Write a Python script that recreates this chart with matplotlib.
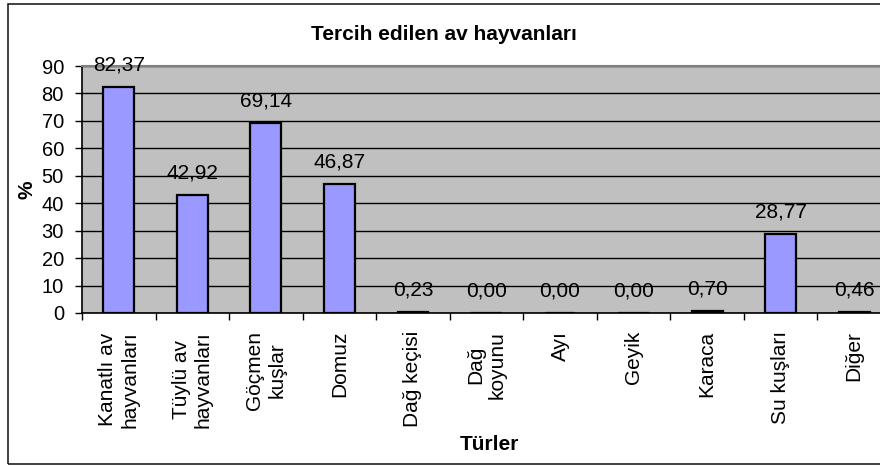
import matplotlib
import matplotlib.pyplot as plt
from matplotlib.patches import Rectangle
import numpy as np

matplotlib.use("Agg")
plt.rcParams["font.family"] = ["Liberation Sans", "DejaVu Sans"]

# Data
CATEGORIES = [
    "Kanatlı av\nhayvanları",
    "Tüylü av\nhayvanları",
    "Göçmen\nkuşlar",
    "Domuz",
    "Dağ keçisi",
    "Dağ\nkoyunu",
    "Ayı",
    "Geyik",
    "Karaca",
    "Su kuşları",
    "Diğer",
]
VALUES = [82.37, 42.92, 69.14, 46.87, 0.23, 0.00, 0.00, 0.00, 0.70, 28.77, 0.46]

TITLE = "Tercih edilen av hayvanları"
XLABEL = "Türler"
YLABEL = "%"

W, H = 880, 467
fig = plt.figure(figsize=(W / 100, H / 100), dpi=100)

# outer chart frame (right edge is cropped in the reference)
fig.patches.append(
    Rectangle((8 / W, 1 - 464 / H), 1.2, (464 - 4) / H, transform=fig.transFigure,
              fill=False, edgecolor="#202020", lw=1.2, clip_on=False)
)

ax = fig.add_axes([82 / W, 1 - 313 / H, (891 - 82) / W, (313 - 66) / H])
ax.set_facecolor("#C0C0C0")

x = np.arange(len(CATEGORIES))
ax.bar(x, VALUES, width=0.42, color="#9999FF", edgecolor="black", linewidth=1.6, zorder=3)

for xi, v in zip(x, VALUES):
    ax.annotate(f"{v:.2f}".replace(".", ","), (xi, v), xytext=(0, 9),
                textcoords="offset points", ha="center", va="bottom", fontsize=15, zorder=4)

ax.set_xlim(-0.5, len(CATEGORIES) - 0.5)
ax.set_ylim(0, 90)
ax.set_yticks(np.arange(0, 91, 10))
ax.yaxis.grid(True, color="black", lw=1.0, zorder=1)
ax.set_axisbelow(True)

ax.set_xticks(x)
ax.set_xticklabels(CATEGORIES, rotation=90, fontsize=15, va="top", ha="center",
                   multialignment="center")
ax.set_xticks(np.arange(-0.5, len(CATEGORIES)), minor=True)
ax.tick_params(axis="x", which="major", length=0, pad=13)
ax.tick_params(axis="x", which="minor", length=5, width=1, direction="out")
ax.tick_params(axis="y", length=5, width=1, direction="out", labelsize=14.5, pad=8)

for side in ("left", "bottom"):
    ax.spines[side].set_color("black")
    ax.spines[side].set_linewidth(1.2)
ax.spines["top"].set_color("#808080")
ax.spines["top"].set_linewidth(1.5)
ax.spines["right"].set_visible(False)

fig.text(444 / W, 1 - 34 / H, TITLE, ha="center", va="center", fontsize=15, fontweight="bold")
fig.text(489 / W, 1 - 444 / H, XLABEL, ha="center", va="center", fontsize=15, fontweight="bold")
fig.text(27 / W, 1 - 190 / H, YLABEL, ha="center", va="center", fontsize=15,
         fontweight="bold", rotation=90)

fig.savefig("out.png", dpi=100)
